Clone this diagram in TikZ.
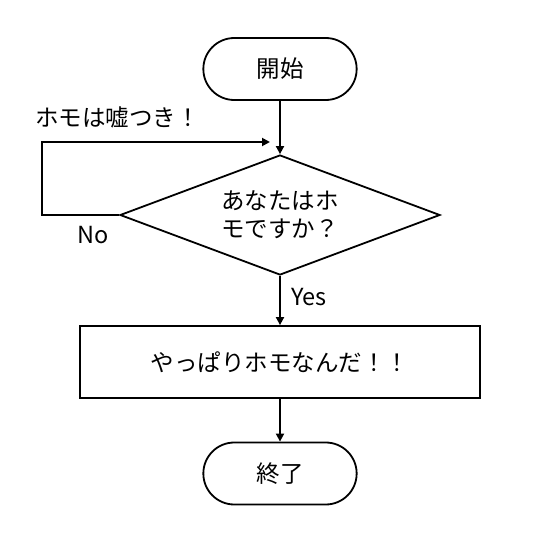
\documentclass[tikz,border=0pt]{standalone}
\usepackage{fontspec}
\setmainfont{Noto Sans CJK JP}
\usetikzlibrary{shapes.geometric,shapes.misc,arrows.meta}

\begin{document}
\begin{tikzpicture}[x=1pt,y=-1pt,
        font=\fontsize{23.5}{28}\selectfont,
        line width=1.8pt,
        arr/.style={-{Triangle[length=8pt,width=8pt]}},
        term/.style={draw,rounded rectangle,minimum width=160pt,minimum height=62pt},
        decision/.style={draw,diamond,shape aspect=2.667,align=center,inner sep=0pt,minimum width=320pt,minimum height=120pt},
        proc/.style={draw,rectangle,minimum width=400pt,minimum height=72pt}]
                \useasboundingbox (0,0) rectangle (534,559);

                \node[term] (start) at (280,69) {開始};
                \node[decision] (quest) at (280,215) {あなたはホ\\モですか？};
                \node[proc] (result) at (280,362) {やっぱりホモなんだ！！};
                \node[term] (stop) at (280,473.5) {終了};

                \coordinate (loop) at (42,142);
                \coordinate (back) at (270,142);

                \draw[arr] (start) -- (quest);
                \draw[arr] (quest) -- (result);
                \draw[arr] (result) -- (stop);
                \draw[arr] (quest.west) -| (loop) -- (back);

                \node[anchor=west] (lie) at (31,117) {ホモは嘘つき！};
                \node (no) at (93,235) {No};
                \node[anchor=west] (yes) at (287,297) {Yes};
            \end{tikzpicture}
\end{document}
